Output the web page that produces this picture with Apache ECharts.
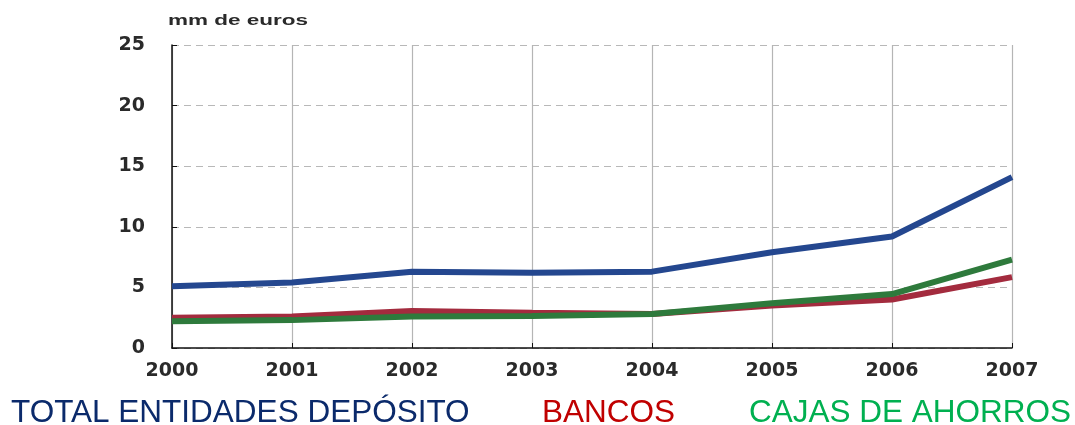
<!DOCTYPE html>
<html>
<head>
<meta charset="utf-8">
<script src="https://cdn.jsdelivr.net/npm/echarts@6/dist/echarts.min.js"></script>
<style>
  html, body { margin: 0; padding: 0; background: #fff; }
  #chart { width: 1075px; height: 425px; }
</style>
</head>
<body>
<div id="chart"></div>
<script>
// datos (mm de euros)
const years = ['2000', '2001', '2002', '2003', '2004', '2005', '2006', '2007']
const total = [5.1, 5.4, 6.3, 6.2, 6.3, 7.9, 9.2, 14.1]
const bancos = [2.5, 2.6, 3.05, 2.9, 2.8, 3.5, 4.0, 5.85]
const cajas = [2.2, 2.3, 2.6, 2.65, 2.8, 3.7, 4.45, 7.3]
const yTicks = [0, 5, 10, 15, 20, 25]

const names = ['TOTAL ENTIDADES DEPÓSITO', 'BANCOS', 'CAJAS DE AHORROS']
const lineColors = ['#24478f', '#a32b3e', '#2e7a3c']
const legendColors = ['#0b2a6b', '#c00000', '#00b050']
const legendLeft = [5, 536, 743]

const chart = echarts.init(document.getElementById('chart'))

const lineSeries = (name, data, color) => ({
  name,
  type: 'line',
  data,
  symbol: 'none',
  lineStyle: { color, width: 6 },
  itemStyle: { color },
  z: 3,
})

const option = {
  backgroundColor: '#fff',
  animation: false,
  grid: { left: 172, right: 63, top: 45, bottom: 77 },
  graphic: [
    {
      type: 'text',
      x: 168,
      y: 21,
      scaleX: 1.5,
      style: {
        text: 'mm de euros',
        font: 'bold 15px "Liberation Sans", Arial, sans-serif',
        fill: '#2a2a2a',
        verticalAlign: 'middle',
      },
    },
  ],
  legend: names.map((n, i) => ({
    data: [{ name: n, textStyle: { color: legendColors[i] } }],
    left: legendLeft[i],
    top: 397,
    itemWidth: 0,
    itemHeight: 0,
    padding: 0,
    textStyle: {
      fontFamily: '"Liberation Sans", Arial, sans-serif',
      fontSize: 31.5,
      color: legendColors[i],
    },
  })),
  xAxis: {
    type: 'category',
    boundaryGap: false,
    data: years,
    axisLine: { lineStyle: { color: '#111', width: 1.5 } },
    axisTick: { inside: true, length: 5, lineStyle: { color: '#111' } },
    axisLabel: {
      color: '#2a2a2a',
      fontFamily: '"DejaVu Sans", sans-serif',
      fontWeight: 'bold',
      fontSize: 19,
      margin: 14,
    },
    splitLine: { show: true, lineStyle: { color: '#b5b5b5', width: 1.2 } },
  },
  yAxis: {
    type: 'value',
    min: yTicks[0],
    max: yTicks[yTicks.length - 1],
    interval: 5,
    axisLine: { show: true, lineStyle: { color: '#111', width: 1.5 } },
    axisTick: { show: true, inside: true, length: 5, lineStyle: { color: '#111' } },
    axisLabel: {
      color: '#2a2a2a',
      fontFamily: '"DejaVu Sans", sans-serif',
      fontWeight: 'bold',
      fontSize: 19,
      margin: 27,
    },
    splitLine: { show: true, lineStyle: { color: '#b8b8b8', type: [7, 5], width: 1.2 } },
  },
  series: [
    lineSeries(names[0], total, lineColors[0]),
    lineSeries(names[1], bancos, lineColors[1]),
    lineSeries(names[2], cajas, lineColors[2]),
  ],
}

chart.setOption(option)
</script>
</body>
</html>
